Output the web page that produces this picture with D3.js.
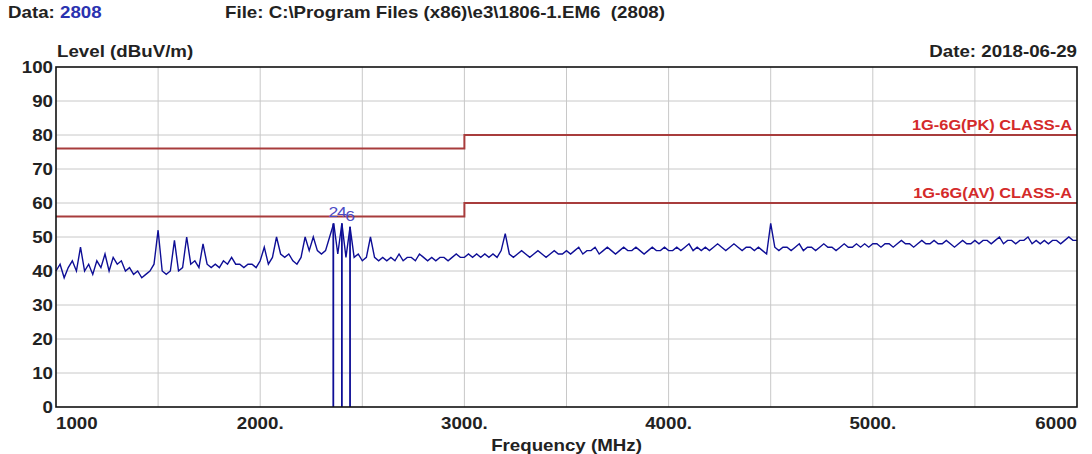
<!DOCTYPE html>
<html>
<head>
<meta charset="utf-8">
<script src="https://cdn.jsdelivr.net/npm/d3@7"></script>
<style>
body { margin: 0; background: #fff; }
svg text { font-family: "Liberation Sans", Arial, sans-serif; font-weight: bold; fill: #222; white-space: pre; }
</style>
</head>
<body>
<svg width="1092" height="454"></svg>
<script>
// sweep: 1000 MHz to 6000 MHz, one reading every 20 MHz
var startFreq = 1000, stepFreq = 20;
var levels = [
  40, 42, 38, 41, 43, 40, 47, 40, 42, 39, 43, 41, 45, 40, 44, 42, 43, 40, 41, 39, 40, 38, 39, 40, 42,
  52, 40, 39, 40, 49, 40, 41, 50, 42, 43, 41, 48, 42, 41, 42, 41, 43, 42, 44, 42, 42, 41, 42, 42, 41,
  43, 47, 42, 44, 50, 45, 44, 45, 43, 42, 44, 50, 46, 50, 46, 45, 46, 50, 54, 45, 54, 44, 53, 44, 45,
  43, 44, 50, 44, 43, 44, 43, 44, 43, 45, 43, 44, 44, 43, 45, 44, 43, 44, 43, 44, 44, 43, 44, 45, 44,
  44, 45, 44, 45, 44, 45, 44, 45, 44, 46, 51, 45, 44, 45, 46, 45, 44, 45, 46, 45, 44, 45, 46, 45, 45,
  46, 45, 46, 47, 45, 46, 46, 47, 45, 46, 47, 46, 45, 46, 47, 46, 46, 47, 46, 45, 46, 47, 46, 46, 47,
  46, 46, 47, 46, 47, 48, 46, 47, 46, 47, 46, 47, 48, 47, 46, 47, 48, 47, 46, 47, 47, 46, 47, 46, 45,
  54, 47, 46, 47, 47, 46, 47, 48, 46, 47, 47, 46, 47, 48, 47, 47, 46, 47, 48, 47, 47, 48, 47, 48, 47,
  48, 48, 47, 48, 48, 47, 48, 49, 48, 48, 47, 48, 49, 48, 48, 49, 48, 48, 49, 48, 47, 48, 49, 48, 48,
  49, 48, 49, 49, 48, 49, 50, 48, 49, 49, 48, 49, 49, 50, 48, 49, 48, 49, 48, 49, 49, 48, 49, 50, 49,
  49
];

var markerFreq = [2358, 2400, 2440];
var markerLevel = [54, 54, 53];
var markerNames = ["2", "4", "6"];

var limitFreq = [1000, 3000, 3000, 6000];
var pkLevel = [76, 76, 80, 80];
var avLevel = [56, 56, 60, 60];
var limitNames = ["1G-6G(PK) CLASS-A", "1G-6G(AV) CLASS-A"];

var xTicks = [1000, 2000, 3000, 4000, 5000, 6000];
var xTickLabels = ["1000", "2000.", "3000.", "4000.", "5000.", "6000"];
var xGrid = [1500, 2000, 2500, 3000, 3500, 4000, 4500, 5000, 5500];
var yTicks = [0, 10, 20, 30, 40, 50, 60, 70, 80, 90, 100];

var svg = d3.select("svg"),
    margin = {top: 67, right: 15, bottom: 47, left: 56},
    width = svg.attr("width") - margin.left - margin.right,
    height = svg.attr("height") - margin.top - margin.bottom,
    g = svg.append("g").attr("transform", "translate(" + margin.left + "," + margin.top + ")");

var sx = 1.17; // text in the picture is a little stretched sideways

var x = d3.scaleLinear().domain([1000, 6000]).range([0, width]),
    y = d3.scaleLinear().domain([0, 100]).range([height, 0]);

function label(parent, px, py, str, anchor, size) {
  return parent.append("text")
      .attr("transform", "translate(" + px + "," + py + ") scale(" + sx + ",1)")
      .attr("text-anchor", anchor || "start")
      .style("font-size", (size || 16) + "px")
      .text(str);
}

// grid
g.selectAll(".hgrid").data(yTicks.slice(1, -1)).enter().append("line")
    .attr("x1", 0).attr("x2", width)
    .attr("y1", function(d) { return y(d); }).attr("y2", function(d) { return y(d); })
    .style("stroke", "#c8c8c8").style("stroke-width", 1);
g.selectAll(".vgrid").data(xGrid).enter().append("line")
    .attr("y1", 0).attr("y2", height)
    .attr("x1", function(d) { return x(d); }).attr("x2", function(d) { return x(d); })
    .style("stroke", "#c8c8c8").style("stroke-width", 1);

// limit lines
var lim = d3.line()
    .x(function(d) { return x(d[0]); })
    .y(function(d) { return y(d[1]); });
[pkLevel, avLevel].forEach(function(lv, k) {
  g.append("path")
      .datum(d3.zip(limitFreq, lv))
      .attr("d", lim)
      .style("fill", "none")
      .style("stroke", "#a83c3c")
      .style("stroke-width", 2);
  label(g, width - 5, y(lv[lv.length - 1]) - 5, limitNames[k], "end", 14)
      .style("fill", "#d42a2a");
});

// trace
var trace = levels.map(function(v, i) { return [startFreq + i * stepFreq, v]; });
g.append("path")
    .datum(trace)
    .attr("d", lim)
    .style("fill", "none")
    .style("stroke", "#0e0e96")
    .style("stroke-width", 1.4);

// markers: the trace drops to the floor there
g.selectAll(".mk").data(markerFreq).enter().append("line")
    .attr("x1", function(d) { return x(d); }).attr("x2", function(d) { return x(d); })
    .attr("y1", function(d, i) { return y(markerLevel[i]); })
    .attr("y2", y(0))
    .style("stroke", "#0e0e96")
    .style("stroke-width", 1.8);
markerNames.forEach(function(n, i) {
  label(g, x(markerFreq[i]), y(markerLevel[i]) - 6, n, "middle", 15)
      .style("font-weight", "normal")
      .style("fill", "#4b4bc4");
});

// frame
g.append("rect")
    .attr("width", width).attr("height", height)
    .style("fill", "none")
    .style("stroke", "#111")
    .style("stroke-width", 1.6);

// axis labels
yTicks.forEach(function(t) {
  label(g, -3, y(t) + 6, String(t), "end");
});
xTicks.forEach(function(t, i) {
  var a = i === 0 ? "start" : (i === xTicks.length - 1 ? "end" : "middle");
  label(g, x(t), height + 22, xTickLabels[i], a);
});
label(g, width / 2, height + 44, "Frequency (MHz)", "middle");
label(g, 1, -10, "Level (dBuV/m)", "start");
label(g, width, -10, "Date: 2018-06-29", "end");

// header
var hd = label(svg, 8, 18, "Data: ", "start");
hd.append("tspan").style("fill", "#2a32b0").text("2808");
label(svg, 225, 18, "File: C:\\Program Files (x86)\\e3\\1806-1.EM6  (2808)", "start");
</script>
</body>
</html>
